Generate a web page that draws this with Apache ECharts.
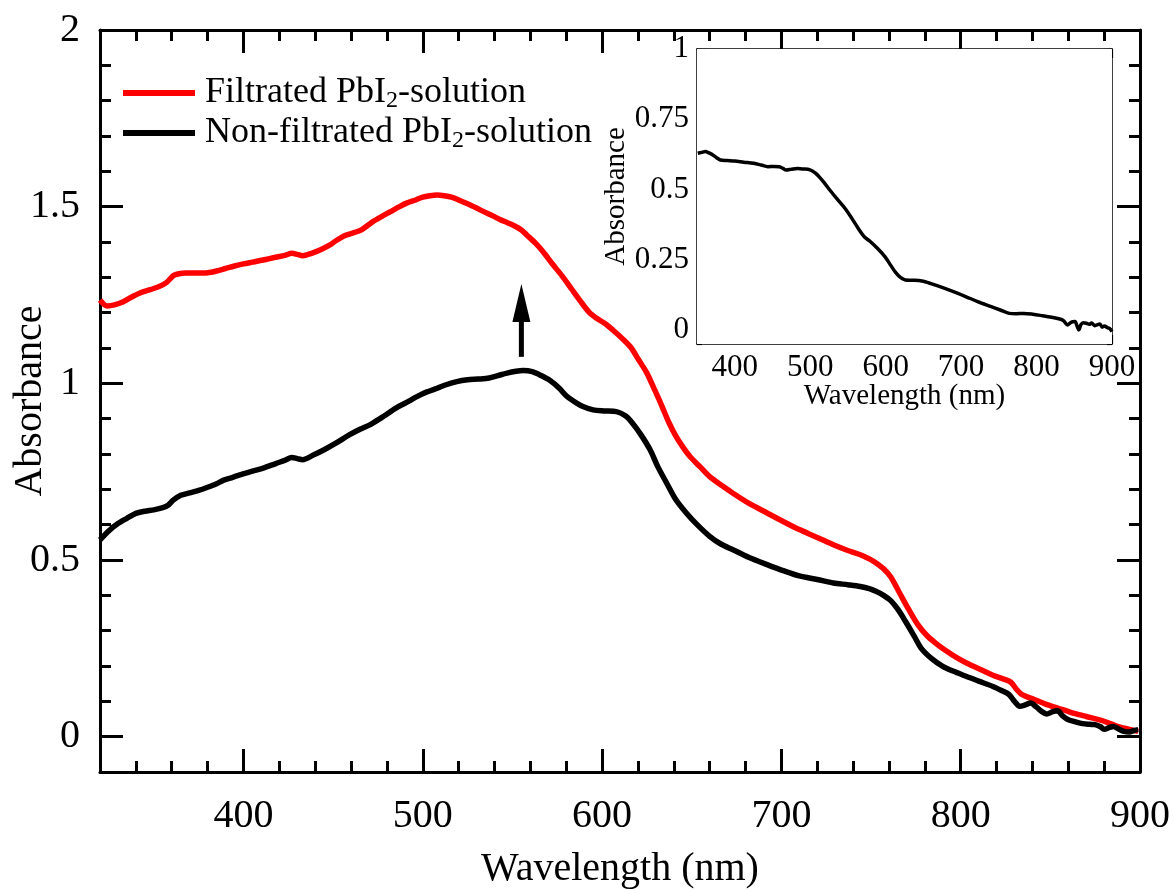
<!DOCTYPE html>
<html>
<head>
<meta charset="utf-8">
<script src="https://cdn.jsdelivr.net/npm/echarts@6/dist/echarts.min.js"></script>
<style>
  html, body { margin: 0; padding: 0; background: #fff; }
  #chart { width: 1173px; height: 890px; }
</style>
</head>
<body>
<div id="chart"></div>
<script>
// Absorbance spectra of PbI2 solutions: [wavelength (nm), absorbance]
const filtratedSpectrum = [
  [320,1.236],[324,1.219],[328,1.222],[333,1.231],[338,1.245],[342,1.255],[348,1.265],[353,1.274],
  [357,1.285],[361,1.305],[364,1.310],[368,1.312],[374,1.312],[380,1.313],[385,1.318],[390,1.325],
  [395,1.332],[400,1.338],[405,1.343],[411,1.349],[418,1.357],[423,1.362],[427,1.368],[430,1.365],
  [433,1.361],[438,1.368],[443,1.378],[448,1.391],[452,1.405],[457,1.419],[462,1.427],[466,1.435],
  [472,1.457],[477,1.472],[482,1.486],[487,1.500],[491,1.510],[496,1.519],[500,1.527],[504,1.531],
  [508,1.533],[512,1.531],[516,1.527],[520,1.519],[525,1.508],[530,1.496],[534,1.486],[539,1.474],
  [543,1.464],[547,1.455],[551,1.446],[555,1.434],[558,1.420],[563,1.396],[567,1.373],[572,1.340],
  [578,1.302],[583,1.267],[588,1.232],[593,1.200],[597,1.184],[602,1.168],[606,1.151],[611,1.128],
  [616,1.102],[620,1.070],[625,1.029],[629,0.985],[633,0.940],[637,0.892],[641,0.852],[645,0.820],
  [649,0.793],[655,0.762],[660,0.736],[667,0.710],[673,0.689],[682,0.660],[692,0.633],[701,0.609],
  [710,0.586],[720,0.564],[729,0.543],[737,0.527],[744,0.515],[749,0.503],[753,0.491],[757,0.475],
  [761,0.452],[766,0.406],[771,0.360],[776,0.318],[781,0.287],[786,0.265],[791,0.246],[798,0.223],
  [805,0.204],[812,0.188],[818,0.174],[824,0.163],[828,0.154],[831,0.135],[834,0.120],[841,0.105],
  [847,0.093],[854,0.081],[859,0.073],[864,0.065],[870,0.057],[877,0.048],[882,0.040],[887,0.030],
  [893,0.022],[899,0.015]
];

const nonFiltratedSpectrum = [
  [320,0.557],[325,0.583],[330,0.603],[335,0.618],[340,0.632],[345,0.638],[350,0.642],[355,0.648],
  [358,0.655],[361,0.670],[365,0.683],[370,0.690],[375,0.697],[380,0.706],[385,0.716],[389,0.726],
  [394,0.734],[398,0.741],[404,0.750],[411,0.760],[418,0.773],[423,0.782],[427,0.790],[430,0.787],
  [433,0.784],[439,0.797],[445,0.812],[452,0.832],[459,0.854],[465,0.870],[471,0.884],[478,0.906],
  [485,0.930],[491,0.946],[497,0.963],[502,0.975],[508,0.986],[513,0.996],[519,1.005],[525,1.010],
  [531,1.012],[537,1.015],[542,1.022],[547,1.029],[552,1.034],[556,1.036],[561,1.033],[566,1.022],
  [571,1.008],[576,0.987],[580,0.965],[584,0.950],[589,0.935],[595,0.925],[601,0.922],[608,0.920],
  [613,0.908],[617,0.887],[622,0.852],[627,0.810],[631,0.765],[636,0.718],[641,0.672],[647,0.633],
  [653,0.600],[660,0.567],[666,0.546],[673,0.529],[682,0.507],[692,0.487],[701,0.470],[710,0.455],
  [720,0.445],[729,0.435],[737,0.430],[744,0.425],[749,0.419],[753,0.411],[757,0.400],[761,0.385],
  [765,0.360],[769,0.328],[774,0.285],[778,0.250],[784,0.220],[790,0.199],[796,0.185],[803,0.171],
  [810,0.157],[818,0.142],[823,0.130],[827,0.119],[830,0.100],[833,0.086],[836,0.090],[839,0.095],
  [842,0.085],[845,0.072],[848,0.064],[851,0.070],[854,0.073],[857,0.058],[860,0.048],[864,0.042],
  [868,0.037],[872,0.035],[875,0.034],[878,0.028],[880,0.021],[883,0.026],[885,0.029],[888,0.022],
  [891,0.015],[894,0.013],[897,0.018],[899,0.020]
];

// Inset: difference spectrum
const differenceSpectrum = [
  [351,0.629],[356,0.632],[361,0.635],[366,0.630],[371,0.623],[376,0.613],[381,0.605],[390,0.603],
  [400,0.601],[412,0.597],[425,0.593],[435,0.587],[444,0.581],[452,0.582],[459,0.581],[464,0.575],
  [468,0.569],[475,0.572],[483,0.575],[490,0.573],[497,0.572],[503,0.566],[507,0.558],[512,0.545],
  [518,0.526],[526,0.498],[535,0.468],[546,0.433],[555,0.398],[565,0.356],[572,0.331],[580,0.314],
  [590,0.288],[599,0.261],[607,0.229],[614,0.202],[620,0.186],[626,0.178],[636,0.177],[648,0.174],
  [660,0.165],[672,0.154],[689,0.137],[706,0.119],[722,0.101],[740,0.083],[752,0.071],[764,0.059],
  [773,0.058],[783,0.059],[795,0.056],[807,0.051],[820,0.045],[832,0.038],[836,0.032],[841,0.018],
  [845,0.026],[848,0.029],[851,0.030],[854,0.012],[856,0.000],[859,0.020],[862,0.026],[866,0.024],
  [870,0.020],[873,0.025],[877,0.015],[880,0.018],[884,0.021],[887,0.010],[890,0.014],[894,0.008],
  [897,0.005],[900,-0.006]
];

// Arrow annotation: [wavelength, tail absorbance, tip absorbance]
const arrowMark = [[555, 1.075, 1.281]];

// Tick labels
const mainXTicks = [400, 500, 600, 700, 800, 900];
const mainYTicks = [0, 0.5, 1, 1.5, 2];
const insetXTicks = [400, 500, 600, 700, 800, 900];
const insetYTicks = [0, 0.25, 0.5, 0.75, 1];

const seriesNames = ['Filtrated PbI2-solution', 'Non-filtrated PbI2-solution'];
const legendRich = {
  'Filtrated PbI2-solution': '{a|Filtrated PbI}{s|2}{b|-solution}',
  'Non-filtrated PbI2-solution': '{a|Non-filtrated PbI}{s|2}{b|-solution}'
};

const FONT = "'Liberation Serif', 'Times New Roman', Times, serif";

// minor tick positions for the inset wavelength axis (every 20 nm)
const insetXMinor = [];
for (let v = 360; v < 900; v += 20) insetXMinor.push(v);

function axis(o) {
  const a = {
    type: 'value',
    gridIndex: o.grid,
    min: o.min,
    max: o.max,
    position: o.pos,
    splitLine: { show: false },
    axisLine: { show: !!o.line, onZero: false, lineStyle: { color: '#000', width: o.lw } },
    axisTick: {
      show: true, inside: true, length: o.len,
      lineStyle: { color: '#000', width: o.tw }
    },
    axisLabel: { show: false }
  };
  if (o.interval !== undefined) a.interval = o.interval;
  if (o.ticks) a.axisTick.customValues = o.ticks;
  if (o.labels) {
    a.axisLabel = {
      show: true, customValues: o.labels, margin: o.margin,
      color: '#000', fontFamily: FONT, fontSize: o.fs
    };
  }
  if (o.name) {
    a.name = o.name;
    a.nameLocation = 'middle';
    a.nameGap = o.nameGap;
    a.nameMoveOverlap = false;
    a.nameTextStyle = { color: '#000', fontFamily: FONT, fontSize: o.nfs };
  }
  return a;
}

const xAxes = [
  // main plot, bottom
  axis({ grid: 0, min: 320, max: 900, pos: 'bottom', line: true, lw: 3, interval: 20, len: 11, tw: 3,
         labels: mainXTicks, margin: 24, fs: 40, name: 'Wavelength (nm)', nameGap: 77, nfs: 40 }),
  axis({ grid: 0, min: 320, max: 900, pos: 'bottom', lw: 3, ticks: mainXTicks, len: 23, tw: 3 }),
  // main plot, top
  axis({ grid: 0, min: 320, max: 900, pos: 'top', line: true, lw: 3, interval: 20, len: 11, tw: 3 }),
  axis({ grid: 0, min: 320, max: 900, pos: 'top', lw: 3, ticks: mainXTicks, len: 23, tw: 3 }),
  // inset, bottom
  axis({ grid: 1, min: 350, max: 900, pos: 'bottom', line: true, lw: 1.5, ticks: insetXMinor, len: 5, tw: 1.2,
         labels: insetXTicks, margin: 8, fs: 31, name: 'Wavelength (nm)', nameGap: 38, nfs: 29 }),
  axis({ grid: 1, min: 350, max: 900, pos: 'bottom', lw: 1.5, ticks: insetXTicks, len: 9, tw: 1.2 }),
  // inset, top
  axis({ grid: 1, min: 350, max: 900, pos: 'top', line: true, lw: 1.5, ticks: insetXMinor, len: 5, tw: 1.2 }),
  axis({ grid: 1, min: 350, max: 900, pos: 'top', lw: 1.5, ticks: insetXTicks, len: 9, tw: 1.2 })
];

const yAxes = [
  // main plot, left
  axis({ grid: 0, min: -0.1, max: 2, pos: 'left', line: true, lw: 3, interval: 0.1, len: 11, tw: 3,
         labels: mainYTicks, margin: 20, fs: 40, name: 'Absorbance', nameGap: 50, nfs: 40 }),
  axis({ grid: 0, min: -0.1, max: 2, pos: 'left', lw: 3, ticks: mainYTicks, len: 23, tw: 3 }),
  // main plot, right
  axis({ grid: 0, min: -0.1, max: 2, pos: 'right', line: true, lw: 3, interval: 0.1, len: 11, tw: 3 }),
  axis({ grid: 0, min: -0.1, max: 2, pos: 'right', lw: 3, ticks: mainYTicks, len: 23, tw: 3 }),
  // inset, left
  axis({ grid: 1, min: -0.05, max: 1, pos: 'left', line: true, lw: 1.5, interval: 0.05, len: 5, tw: 1.2,
         labels: insetYTicks, margin: 8, fs: 31, name: 'Absorbance', nameGap: 66, nfs: 29 }),
  axis({ grid: 1, min: -0.05, max: 1, pos: 'left', lw: 1.5, ticks: insetYTicks, len: 9, tw: 1.2 }),
  // inset, right
  axis({ grid: 1, min: -0.05, max: 1, pos: 'right', line: true, lw: 1.5, interval: 0.05, len: 5, tw: 1.2 }),
  axis({ grid: 1, min: -0.05, max: 1, pos: 'right', lw: 1.5, ticks: insetYTicks, len: 9, tw: 1.2 })
];

const chart = echarts.init(document.getElementById('chart'), null, { renderer: 'canvas' });

chart.setOption({
  animation: false,
  backgroundColor: '#fff',
  grid: [
    { left: 100, top: 30, width: 1040, height: 742, containLabel: false, outerBoundsMode: 'none' },
    { left: 697, top: 49, width: 415, height: 295, containLabel: false, outerBoundsMode: 'none',
      show: true, backgroundColor: '#fff', borderWidth: 0, z: 3 }
  ],
  xAxis: xAxes,
  yAxis: yAxes,
  legend: {
    data: seriesNames,
    orient: 'vertical',
    left: 118,
    top: 68,
    padding: 5,
    itemWidth: 72,
    itemHeight: 6,
    itemGap: 0,
    icon: 'rect',
    formatter: name => legendRich[name],
    textStyle: {
      color: '#000',
      fontFamily: FONT,
      fontSize: 36,
      lineHeight: 40,
      rich: {
        a: { color: '#000', fontFamily: FONT, fontSize: 36, lineHeight: 40, padding: [0, 0, 0, 5] },
        b: { color: '#000', fontFamily: FONT, fontSize: 36, lineHeight: 40 },
        s: { color: '#000', fontFamily: FONT, fontSize: 24, lineHeight: 40, verticalAlign: 'bottom', padding: [14, 0, 0, 0] }
      }
    }
  },
  series: [
    {
      name: seriesNames[0], type: 'line', xAxisIndex: 0, yAxisIndex: 0,
      data: filtratedSpectrum, showSymbol: false, smooth: 0.3,
      color: '#ff0000', lineStyle: { color: '#ff0000', width: 5.5 }, z: 4
    },
    {
      name: seriesNames[1], type: 'line', xAxisIndex: 0, yAxisIndex: 0,
      data: nonFiltratedSpectrum, showSymbol: false, smooth: 0.3,
      color: '#000', lineStyle: { color: '#000', width: 5.5 }, z: 5
    },
    {
      name: 'difference', type: 'line', xAxisIndex: 4, yAxisIndex: 4,
      data: differenceSpectrum, showSymbol: false, smooth: 0.3,
      color: '#000', lineStyle: { color: '#000', width: 3.5 }, z: 6
    },
    {
      name: 'arrow', type: 'custom', xAxisIndex: 0, yAxisIndex: 0,
      data: arrowMark,
      encode: { x: 0, y: [1, 2] },
      z: 6,
      renderItem: function (params, api) {
        const tail = api.coord([api.value(0), api.value(1)]);
        const tip = api.coord([api.value(0), api.value(2)]);
        const headLen = 38, headHalf = 9;
        return {
          type: 'group',
          children: [
            { type: 'line',
              shape: { x1: tail[0], y1: tail[1], x2: tip[0], y2: tip[1] + headLen - 2 },
              style: { stroke: '#000', lineWidth: 5 } },
            { type: 'polygon',
              shape: { points: [[tip[0], tip[1]], [tip[0] - headHalf, tip[1] + headLen], [tip[0] + headHalf, tip[1] + headLen]] },
              style: { fill: '#000' } }
          ]
        };
      }
    }
  ]
});
</script>
</body>
</html>
